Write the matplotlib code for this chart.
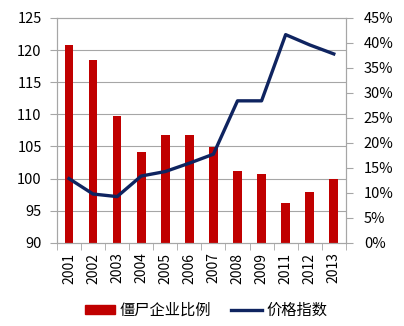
import matplotlib.pyplot as plt
import matplotlib.ticker as mticker
from matplotlib.patches import Patch
from matplotlib.lines import Line2D
import numpy as np

plt.rcParams['font.family'] = ['Noto Sans CJK SC', 'DejaVu Sans']

years = ['2001', '2002', '2003', '2004', '2005', '2006', '2007',
         '2008', '2009', '2011', '2012', '2013']
# 僵尸企业比例 (%), right axis
zombie_ratio = [39.6, 36.6, 25.4, 18.1, 21.6, 21.6, 19.2,
                14.3, 13.7, 7.9, 10.1, 12.8]
# 价格指数, left axis
price_index = [100.0, 97.6, 97.2, 100.4, 101.1, 102.4, 103.8,
               112.1, 112.1, 122.4, 120.8, 119.4]

red = '#C00000'
navy = '#0F2460'
grey = '#A6A6A6'

fig = plt.figure(figsize=(4.04, 3.26), dpi=100)
ax = fig.add_axes([0.141, 0.255, 0.715, 0.69])
x = np.arange(len(years))

# bars sit on the percentage axis
ax.bar(x, zombie_ratio, width=0.36, color=red, zorder=2)
ax.set_ylim(0, 45)
ax.set_xlim(-0.5, len(years) - 0.5)
ax.set_yticks(np.arange(0, 46, 5))
ax.yaxis.set_major_formatter(mticker.FuncFormatter(lambda v, p: f'{v:.0f}%'))

# horizontal grid follows the left (index) axis
left_ticks = np.arange(90, 126, 5)
ax.set_yticks((left_ticks - 90) / 35 * 45, minor=True)
ax.grid(axis='y', which='minor', color=grey, lw=0.8, zorder=0)
ax.set_axisbelow(True)

ax.set_xticks(x)
ax.set_xticklabels(years, rotation=90)
ax.set_xticks(np.arange(-0.5, len(years), 1), minor=True)
ax.tick_params(axis='x', which='major', length=0, pad=7, labelsize=10)
ax.tick_params(axis='x', which='minor', length=5, color=grey, direction='out')

ax2 = ax.twinx()
ax2.plot(x, price_index, color=navy, lw=2.4, zorder=3)
ax2.set_ylim(90, 125)
ax2.set_yticks(left_ticks)

# swap sides: percentages on the right, index on the left
ax.yaxis.tick_right()
ax.yaxis.set_label_position('right')
ax2.yaxis.tick_left()
ax2.yaxis.set_label_position('left')
ax.tick_params(axis='y', which='major', length=5, color=grey,
               direction='out', labelsize=10.5, pad=8)
ax.tick_params(axis='y', which='minor', length=0)
ax2.tick_params(axis='y', length=5, color=grey, direction='out',
                labelsize=10.5, pad=6)

for a in (ax, ax2):
    for s in a.spines.values():
        s.set_color(grey)
        s.set_linewidth(0.8)

handles = [Patch(color=red), Line2D([], [], color=navy, lw=2.4)]
fig.legend(handles, ['僵尸企业比例', '价格指数'], loc='center',
           bbox_to_anchor=(0.51, 0.048), ncol=2, frameon=False,
           fontsize=11, handlelength=2.0, handleheight=0.6,
           handletextpad=0.3, columnspacing=1.3)

fig.savefig('out.png', dpi=100)
